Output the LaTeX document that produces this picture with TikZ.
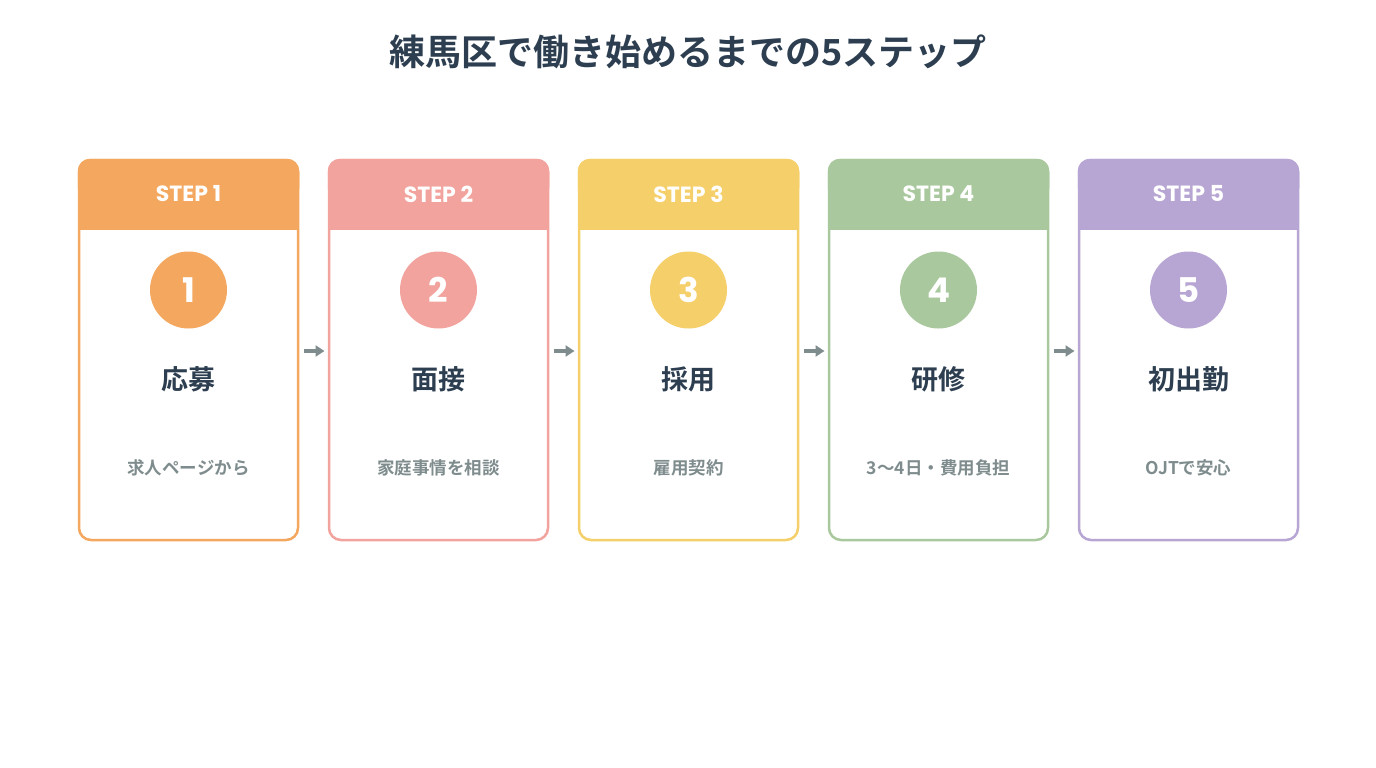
\documentclass[tikz,border=0pt]{standalone}
\usepackage{fontspec}
\setmainfont{Noto Sans CJK JP}[BoldFont={* Bold}]
\newfontfamily\pop{Poppins}[BoldFont={* Bold}]
\usetikzlibrary{arrows.meta}
\definecolor{c1}{HTML}{F4A75E}
\definecolor{c2}{HTML}{F2A39D}
\definecolor{c3}{HTML}{F5CF6A}
\definecolor{c4}{HTML}{A9C89E}
\definecolor{c5}{HTML}{B7A6D3}
\definecolor{dk}{HTML}{2C3E50}
\definecolor{gr}{HTML}{7F8C8D}
\begin{document}
\begin{tikzpicture}[x=1pt,y=-1pt,
 card/.style={draw=#1,line width=2.5pt,rounded corners=12pt,fill=white},
 numc/.style={circle,fill=#1,minimum size=77pt,inner sep=0pt,text=white,font=\fontsize{34}{34}\pop\bfseries},
 hd/.style={text=white,font=\fontsize{22}{22}\pop\bfseries},
 ttl/.style={text=dk,font=\fontsize{27}{27}\selectfont\bfseries},
 sub/.style={text=gr,font=\fontsize{17.5}{17.5}\selectfont\bfseries},
 arr/.style={-{Triangle[length=9pt,width=11pt]},line width=4pt,draw=gr}]
\useasboundingbox (0,0) rectangle (1376,768);
\node[text=dk,font=\fontsize{36}{36}\selectfont\bfseries] (title) at (688,52) {練馬区で働き始めるまでの5ステップ};
\foreach \i/\t/\s in {1/応募/求人ページから,2/面接/家庭事情を相談,3/採用/雇用契約,4/研修/3〜4日・費用負担,5/初出勤/OJTで安心}{
 \pgfmathsetmacro{\cx}{188.5+250*(\i-1)}
 \draw[card=c\i] (\cx-109.5,160) rectangle (\cx+109.5,540);
 \fill[c\i,rounded corners=12pt] (\cx-110.75,158.75) rectangle (\cx+110.75,200);
 \fill[c\i] (\cx-110.75,185) rectangle (\cx+110.75,230);
 \node[hd] (h\i) at (\cx,194) {STEP \i};
 \node[numc=c\i] (n\i) at (\cx,290) {\i};
 \node[ttl] (t\i) at (\cx,379) {\t};
 \node[sub] (s\i) at (\cx,468) {\s};
 \coordinate (L\i) at (\cx-111,351);
 \coordinate (R\i) at (\cx+111,351);
}
\foreach \i/\j in {1/2,2/3,3/4,4/5}{
 \draw[arr] ([xshift=4pt]R\i) -- ([xshift=-3pt]L\j);
}
\end{tikzpicture}
\end{document}
